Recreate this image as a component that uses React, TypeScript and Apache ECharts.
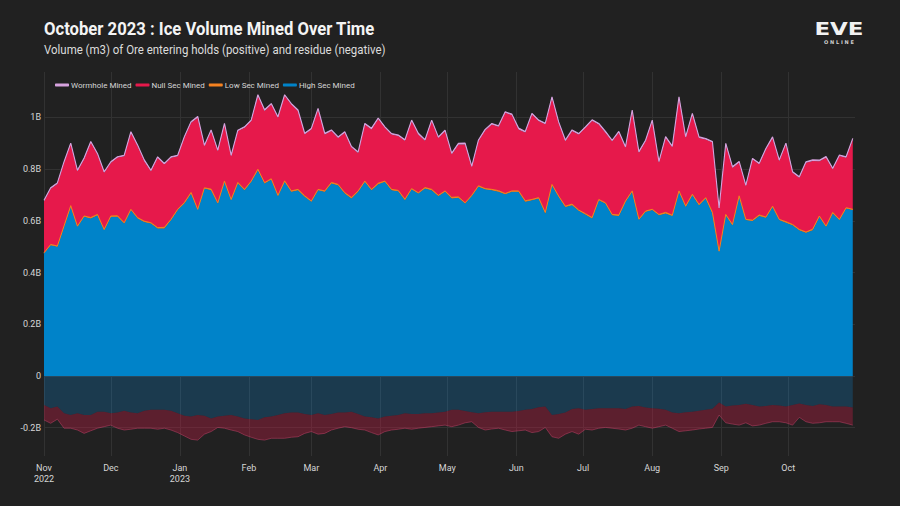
import React, { useEffect, useRef } from "react";
import * as echarts from "echarts";

// ---- data (billions of m3), one sample every 3 days from 1 Nov 2022 ----
const START_YEAR = 2022;
const START_MONTH = 10; // November (0-based)
const START_DAY = 1;
const STEP_DAYS = 3;

const highSecMined = [
  0.474, 0.506, 0.5, 0.577, 0.655, 0.577, 0.616, 0.609, 0.622, 0.564,
  0.616, 0.616, 0.59, 0.642, 0.609, 0.596, 0.59, 0.571, 0.571, 0.603,
  0.642, 0.667, 0.706, 0.642, 0.725, 0.719, 0.667, 0.751, 0.68, 0.745,
  0.719, 0.751, 0.796, 0.745, 0.76, 0.696, 0.751, 0.713, 0.719, 0.693,
  0.674, 0.719, 0.713, 0.745, 0.738, 0.706, 0.687, 0.713, 0.751, 0.719,
  0.742, 0.751, 0.719, 0.715, 0.68, 0.722, 0.706, 0.725, 0.719, 0.696,
  0.713, 0.687, 0.69, 0.667, 0.696, 0.732, 0.722, 0.719, 0.713, 0.703,
  0.713, 0.713, 0.674, 0.68, 0.687, 0.629, 0.738, 0.693, 0.654, 0.661,
  0.639, 0.625, 0.609, 0.68, 0.667, 0.622, 0.619, 0.674, 0.713, 0.603,
  0.635, 0.642, 0.622, 0.629, 0.619, 0.713, 0.654, 0.7, 0.661, 0.687,
  0.629, 0.48, 0.622, 0.583, 0.693, 0.603, 0.6, 0.619, 0.612, 0.654,
  0.603, 0.593, 0.583, 0.564, 0.554, 0.564, 0.616, 0.577, 0.629, 0.603,
  0.648, 0.642,
];

const lowSecMined = [
  0.003, 0.003, 0.003, 0.004, 0.004, 0.003, 0.003, 0.004, 0.003, 0.003,
  0.003, 0.004, 0.003, 0.003, 0.004, 0.003, 0.003, 0.003, 0.004, 0.003,
  0.003, 0.004, 0.004, 0.003, 0.003, 0.004, 0.003, 0.003, 0.003, 0.004,
  0.003, 0.003, 0.004, 0.003, 0.003, 0.003, 0.004, 0.003, 0.003, 0.004,
  0.003, 0.003, 0.003, 0.004, 0.003, 0.003, 0.004, 0.003, 0.003, 0.003,
  0.004, 0.003, 0.003, 0.003, 0.004, 0.003, 0.003, 0.004, 0.003, 0.003,
  0.003, 0.004, 0.003, 0.003, 0.003, 0.004, 0.003, 0.003, 0.004, 0.003,
  0.003, 0.003, 0.004, 0.003, 0.003, 0.004, 0.003, 0.003, 0.003, 0.004,
  0.003, 0.003, 0.004, 0.003, 0.003, 0.003, 0.004, 0.003, 0.003, 0.004,
  0.003, 0.003, 0.003, 0.004, 0.003, 0.003, 0.004, 0.003, 0.003, 0.003,
  0.004, 0.003, 0.003, 0.003, 0.004, 0.003, 0.003, 0.004, 0.003, 0.003,
  0.003, 0.004, 0.003, 0.003, 0.003, 0.004, 0.003, 0.003, 0.004, 0.003,
  0.003, 0.003,
];

const nullSecMined = [
  0.199, 0.215, 0.24, 0.245, 0.238, 0.212, 0.219, 0.29, 0.232, 0.219,
  0.206, 0.225, 0.257, 0.296, 0.277, 0.232, 0.199, 0.27, 0.244, 0.238,
  0.205, 0.251, 0.27, 0.354, 0.161, 0.225, 0.2, 0.219, 0.167, 0.199,
  0.238, 0.232, 0.284, 0.277, 0.287, 0.3, 0.329, 0.334, 0.303, 0.238,
  0.277, 0.309, 0.218, 0.199, 0.18, 0.232, 0.193, 0.147, 0.219, 0.232,
  0.248, 0.206, 0.212, 0.21, 0.226, 0.261, 0.225, 0.181, 0.264, 0.222,
  0.231, 0.167, 0.203, 0.226, 0.109, 0.173, 0.225, 0.251, 0.247, 0.312,
  0.293, 0.238, 0.264, 0.329, 0.296, 0.341, 0.335, 0.283, 0.251, 0.283,
  0.292, 0.332, 0.374, 0.29, 0.271, 0.283, 0.319, 0.206, 0.309, 0.257,
  0.27, 0.341, 0.2, 0.289, 0.263, 0.36, 0.264, 0.309, 0.257, 0.225,
  0.27, 0.163, 0.271, 0.219, 0.129, 0.128, 0.235, 0.196, 0.261, 0.264,
  0.225, 0.3, 0.2, 0.2, 0.268, 0.264, 0.212, 0.264, 0.167, 0.245,
  0.193, 0.27,
];

const wormholeMined = [
  0.004, 0.004, 0.004, 0.003, 0.004, 0.004, 0.005, 0.004, 0.004, 0.004,
  0.004, 0.003, 0.004, 0.004, 0.004, 0.005, 0.004, 0.004, 0.003, 0.004,
  0.004, 0.004, 0.004, 0.005, 0.004, 0.004, 0.004, 0.004, 0.004, 0.003,
  0.004, 0.004, 0.004, 0.005, 0.004, 0.004, 0.004, 0.004, 0.004, 0.004,
  0.004, 0.004, 0.005, 0.004, 0.004, 0.004, 0.004, 0.004, 0.004, 0.005,
  0.004, 0.004, 0.004, 0.004, 0.004, 0.004, 0.005, 0.004, 0.004, 0.004,
  0.004, 0.004, 0.004, 0.005, 0.004, 0.004, 0.004, 0.004, 0.004, 0.004,
  0.004, 0.005, 0.004, 0.004, 0.004, 0.004, 0.004, 0.004, 0.005, 0.004,
  0.004, 0.004, 0.004, 0.004, 0.005, 0.004, 0.004, 0.004, 0.004, 0.004,
  0.004, 0.004, 0.005, 0.004, 0.004, 0.004, 0.004, 0.004, 0.004, 0.004,
  0.004, 0.004, 0.004, 0.005, 0.004, 0.004, 0.004, 0.004, 0.004, 0.004,
  0.005, 0.004, 0.004, 0.004, 0.004, 0.004, 0.004, 0.005, 0.004, 0.004,
  0.004, 0.004,
];

const highSecResidue = [
  -0.112, -0.125, -0.118, -0.144, -0.151, -0.144, -0.151, -0.151, -0.138, -0.138,
  -0.144, -0.141, -0.134, -0.141, -0.144, -0.134, -0.131, -0.131, -0.131, -0.134,
  -0.144, -0.154, -0.157, -0.151, -0.154, -0.164, -0.157, -0.154, -0.151, -0.157,
  -0.164, -0.167, -0.17, -0.16, -0.157, -0.151, -0.144, -0.141, -0.141, -0.147,
  -0.151, -0.144, -0.151, -0.147, -0.141, -0.141, -0.138, -0.147, -0.157, -0.16,
  -0.164, -0.157, -0.154, -0.151, -0.144, -0.147, -0.147, -0.144, -0.144, -0.141,
  -0.138, -0.131, -0.131, -0.135, -0.14, -0.144, -0.14, -0.138, -0.138, -0.138,
  -0.138, -0.135, -0.131, -0.128, -0.121, -0.118, -0.151, -0.147, -0.141, -0.128,
  -0.125, -0.131, -0.128, -0.125, -0.125, -0.125, -0.125, -0.128, -0.118, -0.116,
  -0.122, -0.125, -0.127, -0.131, -0.141, -0.144, -0.14, -0.138, -0.134, -0.131,
  -0.127, -0.103, -0.118, -0.114, -0.112, -0.107, -0.112, -0.118, -0.116, -0.112,
  -0.114, -0.118, -0.112, -0.106, -0.112, -0.116, -0.109, -0.112, -0.118, -0.118,
  -0.118, -0.122,
];

const nullSecResidue = [
  -0.058, -0.058, -0.049, -0.058, -0.051, -0.065, -0.071, -0.061, -0.064, -0.058,
  -0.046, -0.061, -0.075, -0.065, -0.058, -0.068, -0.071, -0.075, -0.071, -0.075,
  -0.075, -0.078, -0.088, -0.097, -0.071, -0.051, -0.042, -0.048, -0.058, -0.058,
  -0.064, -0.07, -0.075, -0.088, -0.084, -0.09, -0.097, -0.096, -0.094, -0.075,
  -0.064, -0.081, -0.071, -0.062, -0.061, -0.055, -0.062, -0.059, -0.052, -0.059,
  -0.064, -0.058, -0.055, -0.055, -0.058, -0.059, -0.055, -0.055, -0.052, -0.052,
  -0.052, -0.065, -0.059, -0.046, -0.037, -0.055, -0.069, -0.067, -0.064, -0.071,
  -0.077, -0.077, -0.078, -0.091, -0.094, -0.081, -0.084, -0.094, -0.084, -0.087,
  -0.1, -0.075, -0.081, -0.077, -0.074, -0.077, -0.08, -0.081, -0.084, -0.074,
  -0.074, -0.077, -0.069, -0.059, -0.061, -0.071, -0.072, -0.071, -0.071, -0.071,
  -0.072, -0.048, -0.063, -0.072, -0.078, -0.074, -0.081, -0.072, -0.067, -0.065,
  -0.063, -0.063, -0.078, -0.054, -0.065, -0.067, -0.072, -0.065, -0.059, -0.059,
  -0.065, -0.068,
];

const monthTicks = [
  "2022-11", "2022-12", "2023-01", "2023-02", "2023-03", "2023-04",
  "2023-05", "2023-06", "2023-07", "2023-08", "2023-09", "2023-10",
];
const monthNames = ["Jan", "Feb", "Mar", "Apr", "May", "Jun", "Jul", "Aug", "Sep", "Oct", "Nov", "Dec"];
const yTicks = [-0.2, 0, 0.2, 0.4, 0.6, 0.8, 1];

const X_MIN = "2022-11-01";
const X_MAX = "2023-10-31";

// ---- styling ----
const BG = "#212121";
const GRID = "#323232";
const LABEL = "#d6d6d6";
const FONT = "Roboto";
const C_WH = "#d6a2de";
const C_NULL = "#e6194b";
const C_LOW = "#f58220";
const C_HIGH = "#0083c9";

function localTs(s: string): number {
  const [y, m, d] = s.split("-").map(Number);
  return new Date(y, m - 1, d || 1).getTime();
}

const dates = highSecMined.map((_, i) =>
  new Date(START_YEAR, START_MONTH, START_DAY + STEP_DAYS * i).getTime()
);
const monthTs = monthTicks.map(localTs);

// value first, date second: the stacked dimension is the first numeric one
const pair = (arr: number[]) => arr.map((v, i) => [v, dates[i]]);

function areaSeries(name: string, data: number[], stack: string, fill: string, line: string, lineWidth: number, z: number) {
  return {
    name,
    type: "line",
    stack,
    encode: { x: 1, y: 0 },
    data: pair(data),
    showSymbol: false,
    symbol: "none",
    color: fill,
    z,
    lineStyle: { color: line, width: lineWidth },
    areaStyle: { color: fill, opacity: 1 },
    emphasis: { disabled: true },
  };
}

export default function App() {
  const ref = useRef<HTMLDivElement>(null);
  useEffect(() => {
    document.body.style.margin = "0";
    document.body.style.background = BG;
    const chart = echarts.init(ref.current!, null, { renderer: "svg" });
    const option: any = {
      animation: false,
      backgroundColor: BG,
      textStyle: { fontFamily: FONT },
      grid: { left: 44, right: 45, top: 72, bottom: 50 },
      legend: {
        left: 50,
        top: 76,
        icon: "roundRect",
        itemWidth: 14,
        itemHeight: 3,
        itemGap: 4,
        data: ["Wormhole Mined", "Null Sec Mined", "Low Sec Mined", "High Sec Mined"],
        textStyle: { color: LABEL, fontSize: 8, fontFamily: FONT, padding: [0, 0, 0, -3] },
      },
      graphic: [
        {
          type: "text",
          x: 44,
          y: 20,
          scaleX: 0.952,
          style: {
            text: "October 2023 : Ice Volume Mined Over Time",
            fill: "#f4f4f4",
            fontSize: 17.5,
            fontWeight: "bold",
            fontFamily: FONT,
            verticalAlign: "top",
          },
        },
        {
          type: "text",
          x: 44,
          y: 43.5,
          scaleX: 0.955,
          style: {
            text: "Volume (m3) of Ore entering holds (positive) and residue (negative)",
            fill: "#dcdcdc",
            fontSize: 12,
            fontFamily: FONT,
            verticalAlign: "top",
          },
        },
        {
          type: "text",
          x: 839,
          y: 21,
          scaleX: 1.35,
          style: {
            text: "EVE",
            fill: "#f2f2f2",
            fontSize: 17,
            fontWeight: "bold",
            fontFamily: "DejaVu Sans",
            align: "center",
            verticalAlign: "top",
          },
        },
        {
          type: "text",
          x: 839,
          y: 39.5,
          style: {
            text: "O N L I N E",
            fill: "#cfcfcf",
            fontSize: 5,
            fontWeight: "bold",
            fontFamily: "DejaVu Sans",
            align: "center",
            verticalAlign: "top",
          },
        },
      ],
      xAxis: {
        type: "value",
        min: localTs(X_MIN),
        max: localTs(X_MAX),
        axisLine: { show: false },
        axisTick: { show: false, customValues: monthTs },
        axisLabel: {
          customValues: monthTs,
          color: LABEL,
          fontSize: 9,
          fontFamily: FONT,
          margin: 6,
          lineHeight: 11,
          hideOverlap: false,
          formatter: (v: number) => {
            const d = new Date(v);
            const m = monthNames[d.getMonth()];
            return v === monthTs[0] || d.getMonth() === 0 ? m + "\n" + d.getFullYear() : m;
          },
        },
        splitLine: { show: true, lineStyle: { color: GRID, width: 1 } },
      },
      yAxis: {
        type: "value",
        min: -0.3095,
        max: 1.176,
        axisLine: { show: false },
        axisTick: { show: false, customValues: yTicks },
        axisLabel: {
          customValues: yTicks,
          color: LABEL,
          fontSize: 9,
          fontFamily: FONT,
          margin: 3,
          formatter: (v: number) => (Math.abs(v) < 1e-9 ? "0" : `${+v.toFixed(1)}B`),
        },
        splitLine: { show: true, lineStyle: { color: GRID, width: 1 } },
      },
      series: [
        areaSeries("High Sec Mined", highSecMined, "mined", C_HIGH, C_HIGH, 0.6, 2),
        areaSeries("Low Sec Mined", lowSecMined, "mined", C_LOW, C_LOW, 1, 4),
        areaSeries("Null Sec Mined", nullSecMined, "mined", C_NULL, C_NULL, 0, 3),
        areaSeries("Wormhole Mined", wormholeMined, "mined", C_WH, C_WH, 1.1, 5),
        areaSeries("High Sec Residue", highSecResidue, "residue", "rgba(10,150,240,0.22)", "rgba(10,150,240,0.3)", 0, 2),
        areaSeries("Null Sec Residue", nullSecResidue, "residue", "rgba(230,25,75,0.3)", "rgba(200,70,110,0.6)", 0.8, 3),
      ],
    };
    chart.setOption(option);
    return () => chart.dispose();
  }, []);
  return (
    <div
      ref={ref}
      style={{ position: "fixed", left: 0, top: 0, width: 900, height: 506, background: BG }}
    />
  );
}
